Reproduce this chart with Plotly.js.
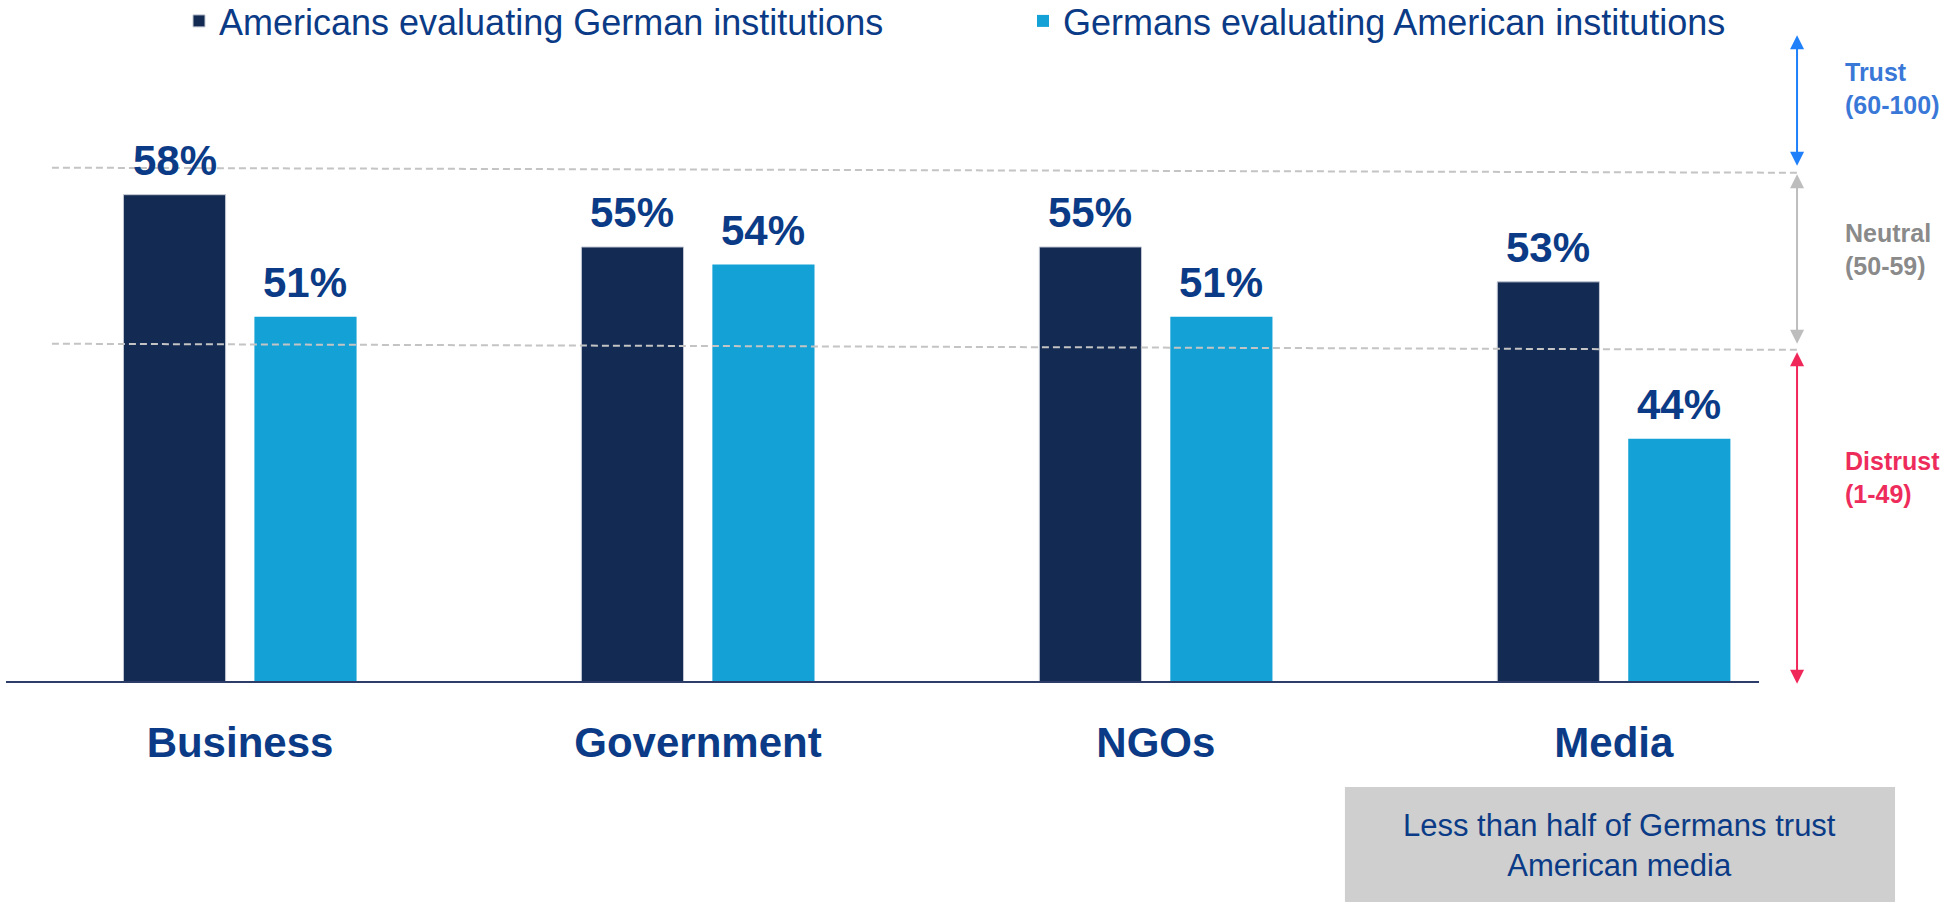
<!DOCTYPE html>
<html><head><meta charset="utf-8">
<script src="https://cdn.plot.ly/plotly-3.0.1.min.js"></script>
<style>html,body{margin:0;padding:0;background:#fff}#chart{width:1952px;height:902px}</style>
</head><body><div id="chart"></div>
<script>
// ---- data ----
const categories = ['Business', 'Government', 'NGOs', 'Media'];
const seriesNames = ['Americans evaluating German institutions', 'Germans evaluating American institutions'];
const americansOnGerman = [58, 55, 55, 53];
const germansOnAmerican = [51, 54, 51, 44];
const zoneLabels = ['Trust<br>(60-100)', 'Neutral<br>(50-59)', 'Distrust<br>(1-49)'];
const zoneLabelY = [64.1, 54.85, 41.8];
const zoneArrowFrom = [67.24, 59.26, 49.05];
const zoneArrowTo = [59.66, 49.45, 29.94];
const thresholdStart = [59.55, 49.45];
const thresholdEnd = [59.26, 49.1];
const noteText = 'Less than half of Germans trust<br>American media';

// ---- style ----
const FONT = 'Liberation Sans, Arial, Helvetica, sans-serif';
const TEXT_BLUE = '#0B3B86';
const seriesColors = ['#132A52', '#14A1D5'];
const zoneTextColors = ['#3A78D8', '#8A8A8A', '#EE2C5C'];
const zoneArrowColors = ['#1F80FA', '#BDBDBD', '#F0285A'];
const BARGAP = 0.428, BARGROUPGAP = 0.22;
const groupOffset = (1 - BARGAP) / 4;
const seriesValues = [americansOnGerman, germansOnAmerican];

const traces = seriesValues.map((vals, i) => ({
  type: 'bar', name: seriesNames[i], x: categories, y: vals,
  marker: {color: seriesColors[i], line: {color: i === 0 ? '#C3C8D3' : seriesColors[i], width: i === 0 ? 1 : 0}},
  hoverinfo: 'x+y+name'
}));

const annotations = [];
seriesValues.forEach((vals, i) => {
  vals.forEach((v, j) => {
    annotations.push({
      xref: 'x', yref: 'y', x: j + (i === 0 ? -groupOffset : groupOffset), y: v,
      text: v + '%', showarrow: false, yanchor: 'middle', yshift: 34,
      font: {family: FONT, size: 42, color: TEXT_BLUE, weight: 'bold'}
    });
  });
});
zoneLabels.forEach((t, i) => {
  annotations.push({
    xref: 'paper', yref: 'y', x: 1.048, y: zoneLabelY[i], xanchor: 'left', yanchor: 'middle', align: 'left',
    text: t, showarrow: false, font: {family: FONT, size: 25, color: zoneTextColors[i], weight: 'bold'}
  });
  annotations.push({
    xref: 'paper', yref: 'y', x: 1.0217, y: zoneArrowTo[i],
    axref: 'pixel', ax: 0, ayref: 'y', ay: zoneArrowFrom[i],
    text: '', showarrow: true, arrowside: 'end+start', arrowhead: 2, startarrowhead: 2,
    arrowsize: 1.4, startarrowsize: 1.4, arrowwidth: 2, arrowcolor: zoneArrowColors[i],
    standoff: 0, startstandoff: 0, font: {size: 1}
  });
});
annotations.push({
  xref: 'paper', yref: 'paper', x: 0.9207, y: -0.255, text: noteText, showarrow: false,
  xanchor: 'center', yanchor: 'middle', align: 'center',
  font: {family: FONT, size: 31, color: TEXT_BLUE}
});

const shapes = thresholdStart.map((y0, i) => ({
  type: 'line', xref: 'paper', yref: 'y', x0: 0.0262, x1: 1.0217, y0: y0, y1: thresholdEnd[i],
  line: {color: '#C4C4C4', width: 2, dash: '7px,4px'}, layer: 'above'
}));
shapes.push({
  type: 'rect', xref: 'paper', yref: 'paper', x0: 0.7638, x1: 1.0776, y0: -0.345, y1: -0.1638,
  fillcolor: '#CFCFCF', line: {width: 0}, layer: 'below'
});

const layout = {
  width: 1952, height: 902,
  margin: {l: 6, r: 193, t: 34, b: 221, autoexpand: false},
  paper_bgcolor: '#FFFFFF', plot_bgcolor: '#FFFFFF',
  font: {family: FONT, color: TEXT_BLUE},
  barmode: 'group', bargap: BARGAP, bargroupgap: BARGROUPGAP,
  showlegend: true,
  legend: {
    orientation: 'h', xref: 'container', yref: 'container',
    x: 179 / 1952, y: 1 - 21 / 902, xanchor: 'left', yanchor: 'middle',
    font: {family: FONT, size: 36, color: TEXT_BLUE}, entrywidth: 799, bgcolor: 'rgba(0,0,0,0)'
  },
  xaxis: {
    type: 'category', range: [-0.511, 3.317], showline: true, linecolor: '#2B3D68', linewidth: 2,
    ticks: '', showgrid: false, zeroline: false, ticklabelstandoff: 24,
    tickfont: {family: FONT, size: 42, color: TEXT_BLUE, weight: 'bold'}, fixedrange: true
  },
  yaxis: {
    range: [30.1, 67.22], showgrid: false, zeroline: false, showticklabels: false, ticks: '',
    showline: false, fixedrange: true
  },
  annotations: annotations, shapes: shapes
};

Plotly.newPlot('chart', traces, layout, {displayModeBar: false, responsive: false});
</script></body></html>
